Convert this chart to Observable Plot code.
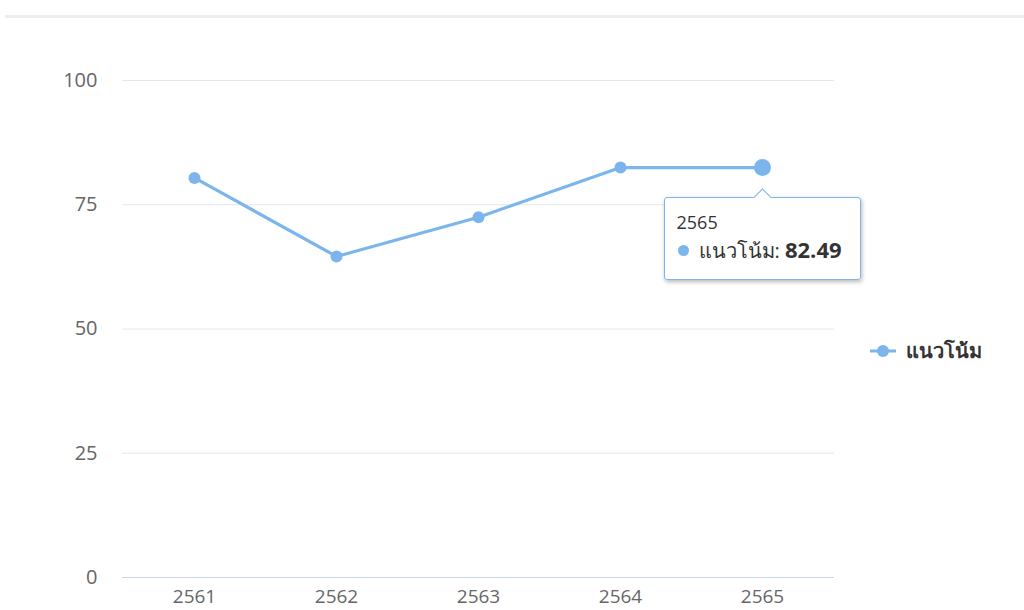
<!DOCTYPE html>
<html><head><meta charset="utf-8">
<script src="https://cdn.jsdelivr.net/npm/d3@7"></script>
<script src="https://cdn.jsdelivr.net/npm/@observablehq/plot@0.6"></script>
<style>
body{margin:0;background:#fff;font-family:"Open Sans","Noto Sans",sans-serif;}
#wrap{position:relative;width:1024px;height:610px;overflow:hidden;}
#topline{position:absolute;left:5px;right:0;top:15px;height:3px;background:#ededed;}
#chart{position:absolute;left:0;top:0;}
#tip{position:absolute;width:195px;height:81px;background:rgba(255,255,255,0.96);border:1px solid #7cb5ec;border-radius:3px;box-shadow:1px 2px 4px rgba(0,0,0,0.28);box-sizing:content-box;color:#333;}
#tip .arrow{position:absolute;left:50%;top:-7px;width:12px;height:12px;margin-left:-6px;background:#fff;border-left:1px solid #7cb5ec;border-top:1px solid #7cb5ec;transform:rotate(45deg);}
#tip .hdr{position:absolute;left:12px;top:12px;font-size:18px;color:#333;}
#tip .row{position:absolute;left:13px;top:36px;font-size:20px;color:#333;white-space:nowrap;}
#tip .row b{font-size:22px;font-weight:700;}
#tip .bul{display:inline-block;width:11px;height:11px;border-radius:50%;margin-right:10px;vertical-align:2px;}
#legend{position:absolute;left:869px;top:336px;height:30px;display:flex;align-items:center;font-weight:700;font-size:20px;color:#333;white-space:nowrap;}
#legend svg{margin-right:9px;}
</style></head><body>
<div id="wrap"><div id="topline"></div><div id="chart"></div></div>
<script>
const years = ["2561", "2562", "2563", "2564", "2565"];
const values = [80.4, 64.6, 72.5, 82.5, 82.49];
const seriesName = "แนวโน้ม";
const yTicks = [0, 25, 50, 75, 100];
const highlightYear = "2565";
const lineColor = "#7cb5ec";

const data = years.map((year, i) => ({year, value: values[i]}));
const hi = data.find(d => d.year === highlightYear);

const plot = Plot.plot({
  width: 1024, height: 610,
  marginLeft: 122, marginRight: 190, marginTop: 80, marginBottom: 33,
  x: {type: "point", domain: years, padding: 0.5, label: null},
  y: {domain: [0, 100], ticks: yTicks, label: null},
  style: {fontFamily: "'Open Sans','Noto Sans',sans-serif", fontSize: "19px", color: "#666", background: "transparent", overflow: "visible"},
  marks: [
    Plot.gridY(yTicks, {stroke: "#e6e6e6", strokeOpacity: 1, strokeWidth: 1}),
    Plot.ruleY([0], {stroke: "#ccd6eb", strokeWidth: 1}),
    Plot.axisY({ticks: yTicks, tickSize: 0, tickPadding: 25, fill: "#666", label: null, fontSize: 20}),
    Plot.axisX({tickSize: 0, tickPadding: 12, fill: "#666", label: null, fontSize: 19}),
    Plot.line(data, {x: "year", y: "value", stroke: lineColor, strokeWidth: 3.2}),
    Plot.dot(data, {x: "year", y: "value", fill: lineColor, r: 6}),
    Plot.dot([hi], {x: "year", y: "value", fill: lineColor, r: 8.5})
  ]
});
document.getElementById("chart").appendChild(plot);

// tooltip positioned from the chart's own scales
const px = plot.scale("x").apply(hi.year);
const py = plot.scale("y").apply(hi.value);
const tip = document.createElement("div");
tip.id = "tip";
tip.style.left = (px - 98.5) + "px";
tip.style.top = (py + 30) + "px";
tip.innerHTML = `<div class="arrow"></div><div class="hdr">${hi.year}</div>` +
  `<div class="row"><span class="bul" style="background:${lineColor}"></span>${seriesName}: <b>${hi.value.toFixed(2)}</b></div>`;
document.getElementById("wrap").appendChild(tip);

// legend
const legend = document.createElement("div");
legend.id = "legend";
legend.innerHTML = `<svg width="28" height="14"><line x1="1" x2="27" y1="7" y2="7" stroke="${lineColor}" stroke-width="3"/><circle cx="14" cy="7" r="6" fill="${lineColor}"/></svg><span>${seriesName}</span>`;
document.getElementById("wrap").appendChild(legend);
</script>
</body></html>
